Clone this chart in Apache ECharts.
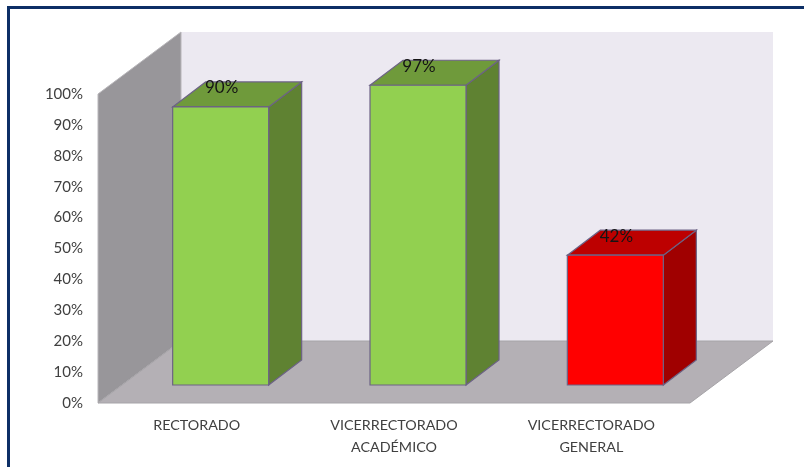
<!DOCTYPE html>
<html><head><meta charset="utf-8">
<style>html,body{margin:0;padding:0;background:#fff}#c{width:804px;height:467px}</style>
<script src="https://cdn.jsdelivr.net/npm/echarts@6/dist/echarts.min.js"></script>
</head><body><div id="c"></div>
<script>
const categories = ['RECTORADO', 'VICERRECTORADO\nACADÉMICO', 'VICERRECTORADO\nGENERAL'];
const values = [90, 97, 42];
const faceColors = ['#92d050', '#92d050', '#ff0000'];
const topColors = ['#6f9a3b', '#6f9a3b', '#bd0000'];
const sideColors = ['#5f8232', '#5f8232', '#a00000'];
const yTicks = 10;

const chart = echarts.init(document.getElementById('c'), null, {renderer: 'canvas'});
const FONT = 'Lato';
const WALL_DX = 83, WALL_DY = 62;
const BAR_W = 96, BAR_DX = 33, BAR_DY = 25, BAR_OFFX = 24, BAR_OFFY = 18;
const EDGE = '#6c6285';

function poly(points, fill, stroke, lw) {
  return {type: 'polygon', shape: {points}, style: {fill, stroke: stroke || null, lineWidth: lw || 0}};
}
function renderWalls(params) {
  const g = params.coordSys;
  const x0 = g.x, x1 = g.x + g.width, yT = g.y, yB = g.y + g.height;
  return {type: 'group', children: [
    poly([[x0 + WALL_DX, yT - WALL_DY], [x1 + WALL_DX, yT - WALL_DY], [x1 + WALL_DX, yB - WALL_DY], [x0 + WALL_DX, yB - WALL_DY]], '#ece9f1'),
    poly([[x0, yT], [x0 + WALL_DX, yT - WALL_DY], [x0 + WALL_DX, yB - WALL_DY], [x0, yB]], '#98969a', '#b8b6ba', 1),
    poly([[x0, yB], [x1, yB], [x1 + WALL_DX, yB - WALL_DY], [x0 + WALL_DX, yB - WALL_DY]], '#b4b0b5', '#a6a4a8', 1)
  ]};
}
function renderBar(params, api) {
  const i = api.value(0), v = api.value(1);
  const top = api.coord([i, v]), base = api.coord([i, 0]);
  const l = top[0] + BAR_OFFX - BAR_W / 2, r = l + BAR_W;
  const t = top[1] - BAR_OFFY, b = base[1] - BAR_OFFY;
  return {type: 'group', children: [
    poly([[r, t], [r + BAR_DX, t - BAR_DY], [r + BAR_DX, b - BAR_DY], [r, b]], sideColors[i], EDGE, 1.2),
    poly([[l, t], [l + BAR_DX, t - BAR_DY], [r + BAR_DX, t - BAR_DY], [r, t]], topColors[i], EDGE, 1.2),
    poly([[l, t], [r, t], [r, b], [l, b]], faceColors[i], EDGE, 1.2),
    {type: 'text', style: {text: v + '%', x: l + BAR_W / 2 + 1, y: t - 19, align: 'center', verticalAlign: 'middle',
      fill: '#141414', font: '17px ' + FONT}}
  ]};
}
chart.setOption({
  animation: false,
  backgroundColor: '#ffffff',
  grid: {left: 98, top: 94, width: 592, height: 309},
  xAxis: {type: 'category', data: categories, axisLine: {show: false}, axisTick: {show: false},
    axisLabel: {color: '#404040', fontFamily: FONT, fontSize: 14.3, lineHeight: 22, margin: 11, interval: 0}},
  yAxis: {type: 'value', min: 0, max: 100, interval: yTicks, axisLine: {show: false}, axisTick: {show: false},
    splitLine: {show: false},
    axisLabel: {color: '#404040', fontFamily: FONT, fontSize: 15, margin: 15, formatter: '{value}%'}},
  graphic: [{type: 'polyline', shape: {points: [[8.5, 467], [8.5, 7.5], [804, 7.5]]},
    style: {stroke: '#0d2f66', lineWidth: 3, fill: null}}],
  series: [
    {type: 'custom', renderItem: renderWalls, data: [[0, 0]], silent: true, z: 1, clip: false},
    {type: 'custom', renderItem: renderBar, data: values.map((v, i) => [i, v]),
      encode: {x: 0, y: 1}, z: 2, clip: false}
  ]
});
</script></body></html>
